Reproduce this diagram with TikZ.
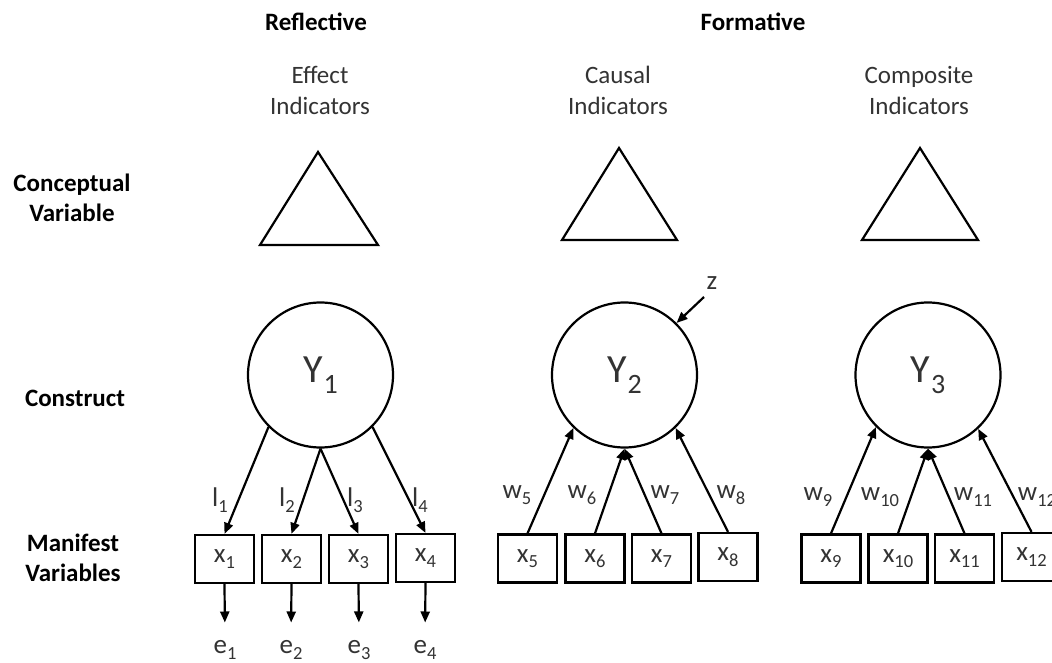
\documentclass[tikz,border=0pt]{standalone}
\usepackage{fontspec}
\setmainfont{Carlito}
\usetikzlibrary{arrows.meta}
\definecolor{txt}{HTML}{333333}
\newcommand\subl[2]{#1\raisebox{-5.5pt}{\fontsize{18.5}{18.5}\selectfont #2}}
\newcommand\subY[1]{Y\raisebox{-11pt}{\fontsize{28}{28}\selectfont\kern1pt #1}}
\begin{document}
\begin{tikzpicture}[x=1pt,y=-1pt,
  lw/.style={line width=2.2pt},
  arr/.style={lw,-{Triangle[length=11pt,width=9pt]}},
  head/.style={font=\fontsize{25}{30}\selectfont\bfseries, align=center, text=black},
  subh/.style={font=\fontsize{25}{31}\selectfont, align=center, text=txt},
  tri/.style={lw, line join=miter},
  cons/.style={circle, draw, lw, minimum size=145pt, inner sep=0pt, font=\fontsize{40}{40}\selectfont, text=txt},
  mv/.style={draw, lw, minimum width=59pt, minimum height=48pt, inner sep=0pt, font=\fontsize{27}{27}\selectfont, text=txt},
  lbl/.style={font=\fontsize{27}{27}\selectfont, text=txt, inner sep=0pt},
]
\useasboundingbox (0,0) rectangle (1052,663);
\clip (0,0) rectangle (1052,663);

% headings
\node[head] (refl) at (316,22) {Reflective};
\node[head] (form) at (753,22) {Formative};
\node[subh] (eff) at (320,90) {Effect\\Indicators};
\node[subh] (cau) at (618,90) {Causal\\Indicators};
\node[subh] (comp) at (919,90) {Composite\\Indicators};
\node[head] (cv) at (72,198) {Conceptual\\Variable};
\node[head] (co) at (75,398) {Construct};
\node[head] (mvl) at (73,558) {Manifest\\Variables};

% triangles
\draw[tri] (260,245) -- (318,152) -- (378,245) -- cycle;
\draw[tri] (562,240) -- (619,148) -- (677,240) -- cycle;
\draw[tri] (862,240) -- (920,148) -- (978,240) -- cycle;

% constructs
\node[cons] (Y1) at (320.5,375) {\subY{1}};
\node[cons] (Y2) at (624.5,375) {\subY{2}};
\node[cons] (Y3) at (928,375) {\subY{3}};

% manifest variables
\node[mv] (x1) at (224.5,559) {\subl{x}{1}};
\node[mv] (x2) at (291.5,559) {\subl{x}{2}};
\node[mv] (x3) at (358.5,559) {\subl{x}{3}};
\node[mv] (x4) at (425.5,558) {\subl{x}{4}};
\node[mv] (x5) at (527.5,558.5) {\subl{x}{5}};
\node[mv] (x6) at (595,558.5) {\subl{x}{6}};
\node[mv] (x7) at (661.5,558.5) {\subl{x}{7}};
\node[mv] (x8) at (728,557) {\subl{x}{8}};
\node[mv] (x9) at (831,558.5) {\subl{x}{9}};
\node[mv] (x10) at (898,558.5) {\subl{x}{10}};
\node[mv] (x11) at (964.5,558.5) {\subl{x}{11}};
\node[mv] (x12) at (1031.5,557) {\subl{x}{12}};

% errors
\node[lbl] (e1) at (225,650) {\subl{e}{1}};
\node[lbl] (e2) at (291,650) {\subl{e}{2}};
\node[lbl] (e3) at (359,650) {\subl{e}{3}};
\node[lbl] (e4) at (425,650) {\subl{e}{4}};
\foreach \i in {1,...,4}{
  \draw[arr, shorten >=18pt] (x\i.south) -- (e\i.north);
}

% reflective arrows
\draw[arr] (Y1.225) -- (x1.north);
\draw[arr] (Y1.270) -- (x2.north);
\draw[arr] (Y1.270) -- (x3.north);
\draw[arr] (Y1.315) -- (x4.north);
\node[lbl] (l1) at (220,500) {\subl{l}{1}};
\node[lbl] (l2) at (287,500) {\subl{l}{2}};
\node[lbl] (l3) at (355,500) {\subl{l}{3}};
\node[lbl] (l4) at (420,500) {\subl{l}{4}};

% causal arrows
\draw[arr] (x5.north) -- (Y2.226);
\draw[arr] (x6.north) -- (Y2.270);
\draw[arr] (x7.north) -- (Y2.270);
\draw[arr] (x8.north) -- (Y2.314);
\node[lbl] (w5) at (517,495) {\subl{w}{5}};
\node[lbl] (w6) at (582,495) {\subl{w}{6}};
\node[lbl] (w7) at (665,495) {\subl{w}{7}};
\node[lbl] (w8) at (731,495) {\subl{w}{8}};

% disturbance
\node[lbl] (z) at (712,283) {z};
\coordinate (zs) at (704,297);
\draw[arr] (zs) -- (Y2.45);

% composite arrows
\draw[arr] (x9.north) -- (Y3.225);
\draw[arr] (x10.north) -- (Y3.270);
\draw[arr] (x11.north) -- (Y3.270);
\draw[arr] (x12.north) -- (Y3.313);
\node[lbl] (w9) at (818,497) {\subl{w}{9}};
\node[lbl] (w10) at (880,497) {\subl{w}{10}};
\node[lbl] (w11) at (973,497) {\subl{w}{11}};
\node[lbl] (w12) at (1037,497) {\subl{w}{12}};
\end{tikzpicture}
\end{document}
